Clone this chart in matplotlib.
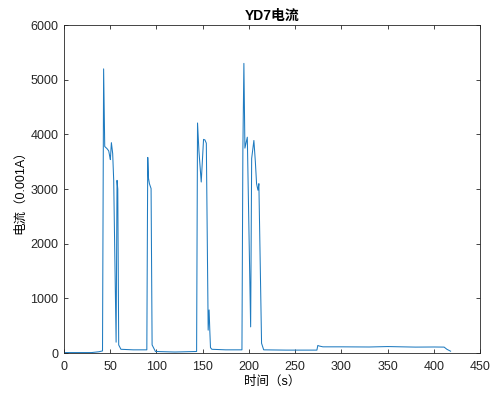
import matplotlib
matplotlib.use("Agg")
import matplotlib.pyplot as plt

# readings (time in s, current in 0.001 A)
time_s = [0, 30, 38, 41.8, 43.0, 44.2, 46.7, 48.5, 49.6, 50.3, 51.4, 52.8, 53.9,
          56.5, 57.5, 58.3, 59.3, 61.7, 75, 89.7, 90.7, 91.5, 92.5, 94.3, 95.4,
          99, 120, 143.5, 144.5, 146, 148.5, 151, 152.5, 154, 156, 157, 157.8,
          158.5, 160, 175, 192.5, 193.5, 194.6, 195.7, 198.3, 201.9, 203, 205.4,
          207, 208.3, 209.8, 210.8, 213.7, 216, 240, 273.5, 274.5, 276, 280,
          300, 330, 350, 380, 400, 411, 414, 418]
current = [10, 10, 25, 40, 5200, 3780, 3740, 3700, 3600, 3540, 3850, 3650, 3160,
           200, 3160, 3000, 150, 70, 60, 60, 3580, 3200, 3100, 3010, 150,
           30, 20, 30, 4210, 3700, 3130, 3910, 3900, 3840, 420, 790, 400,
           100, 70, 60, 60, 3700, 5300, 3750, 3950, 480, 3560, 3890,
           3500, 3100, 2980, 3100, 180, 60, 55, 55, 140, 130, 115,
           115, 112, 120, 110, 112, 110, 70, 35]

x_ticks = list(range(0, 451, 50))
y_ticks = list(range(0, 6001, 1000))

plt.rcParams['font.family'] = ['Liberation Sans', 'Noto Sans CJK SC']

fig = plt.figure(figsize=(4.91, 3.99), dpi=100)
ax = fig.add_axes([0.130, 0.115, 0.848, 0.822])
ax.plot(time_s, current, color='#1f7bc0', linewidth=0.75)

ax.set_xlim(0, 450)
ax.set_ylim(0, 6000)
ax.set_xticks(x_ticks)
ax.set_yticks(y_ticks)
ax.tick_params(direction='in', top=True, right=True, labelsize=9,
               length=3, width=0.6, colors='#262626')
ax.tick_params(axis='x', pad=5.5)
ax.tick_params(axis='y', pad=4)
for s in ax.spines.values():
    s.set_linewidth(0.6)
    s.set_color('#262626')

ax.set_title('YD7电流', fontsize=10, fontweight='bold', pad=4)
ax.set_xlabel('时间（s）', fontsize=9, labelpad=2)
ax.set_ylabel('电流（0.001A）', fontsize=9, labelpad=3)

fig.savefig('out.png', dpi=100)
